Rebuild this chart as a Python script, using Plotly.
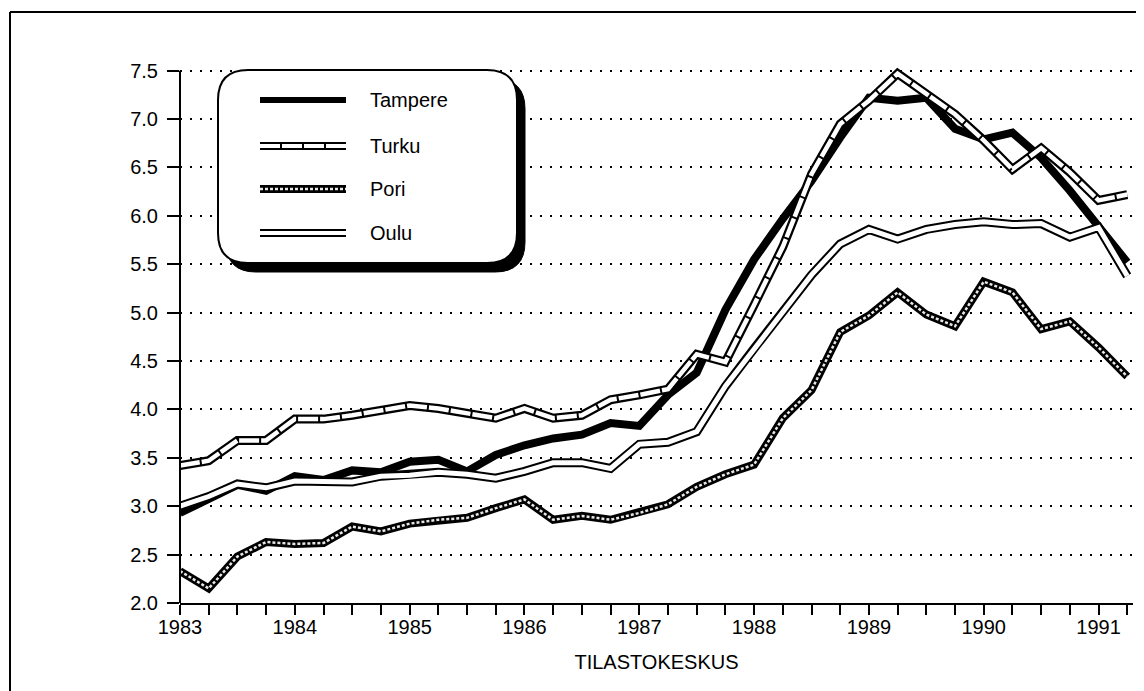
import plotly.graph_objects as go

# quarterly observations, 1983 Q1 .. 1991 Q2
quarters = [1983 + 0.25 * i for i in range(34)]

tampere = [2.93, 3.08, 3.22, 3.16, 3.31, 3.27, 3.37, 3.35, 3.46, 3.48, 3.36, 3.53,
           3.63, 3.70, 3.74, 3.86, 3.83, 4.15, 4.38, 5.03, 5.55, 5.97, 6.36, 6.81,
           7.22, 7.19, 7.22, 6.90, 6.79, 6.86, 6.60, 6.26, 5.90, 5.52]
turku = [3.42, 3.47, 3.68, 3.68, 3.90, 3.90, 3.94, 3.99, 4.04, 4.01, 3.96, 3.91,
         4.01, 3.91, 3.94, 4.10, 4.15, 4.21, 4.57, 4.49, 5.08, 5.68, 6.43, 6.95,
         7.19, 7.47, 7.26, 7.05, 6.78, 6.48, 6.70, 6.45, 6.16, 6.22]
pori = [2.33, 2.15, 2.48, 2.63, 2.61, 2.62, 2.79, 2.74, 2.82, 2.86, 2.88, 2.98,
        3.07, 2.86, 2.90, 2.86, 2.93, 3.02, 3.20, 3.33, 3.43, 3.91, 4.20, 4.80,
        4.97, 5.21, 4.98, 4.86, 5.32, 5.21, 4.83, 4.91, 4.64, 4.34]
oulu = [3.00, 3.10, 3.23, 3.19, 3.26, 3.25, 3.25, 3.31, 3.32, 3.35, 3.33, 3.29,
        3.36, 3.45, 3.45, 3.39, 3.64, 3.66, 3.77, 4.24, 4.63, 5.00, 5.39, 5.71,
        5.86, 5.76, 5.86, 5.91, 5.94, 5.91, 5.92, 5.78, 5.88, 5.38]

y_ticks = [2.0, 2.5, 3.0, 3.5, 4.0, 4.5, 5.0, 5.5, 6.0, 6.5, 7.0, 7.5]
names = ["Tampere", "Turku", "Pori", "Oulu"]

FONT = "Liberation Sans, Arial, sans-serif"

# the page body has an 8px margin, so work in window pixels and shift
OFF = 8
W, H = 1144 - OFF, 691 - OFF
L, R, T, B = 180 - OFF, 1133 - OFF, 61 - OFF, 603 - OFF


def px(x):
    return (x - OFF - L) / (R - L)


def py(y):
    return (B - (y - OFF)) / (B - T)


def rounded_rect(x0, y0, x1, y1, r):
    pts = [
        f"M {px(x0 + r)},{py(y0)}",
        f"L {px(x1 - r)},{py(y0)}",
        f"Q {px(x1)},{py(y0)} {px(x1)},{py(y0 + r)}",
        f"L {px(x1)},{py(y1 - r)}",
        f"Q {px(x1)},{py(y1)} {px(x1 - r)},{py(y1)}",
        f"L {px(x0 + r)},{py(y1)}",
        f"Q {px(x0)},{py(y1)} {px(x0)},{py(y1 - r)}",
        f"L {px(x0)},{py(y0 + r)}",
        f"Q {px(x0)},{py(y0)} {px(x0 + r)},{py(y0)}",
        "Z",
    ]
    return " ".join(pts)


# styles: list of (width, color, dash) layers for each series
styles = {
    "Tampere": [(8, "black", "solid")],
    "Turku": [(9, "black", "solid"), (4.5, "white", "20px,2px")],
    "Pori": [(8, "black", "solid"), (2.5, "#e8e8e8", "3px,2px")],
    "Oulu": [(9, "black", "solid"), (5, "white", "solid")],
}
series = {"Tampere": tampere, "Turku": turku, "Pori": pori, "Oulu": oulu}

fig = go.Figure()
for name in names:
    for w, c, d in styles[name]:
        fig.add_trace(go.Scatter(
            x=quarters, y=series[name], mode="lines",
            line=dict(width=w, color=c, dash=d),
            hoverinfo="skip", showlegend=False))

shapes = []
# outer frame (top and left edges)
shapes.append(dict(type="line", xref="paper", yref="paper",
                   x0=px(10), y0=py(12), x1=px(1144), y1=py(12),
                   line=dict(color="black", width=2)))
shapes.append(dict(type="line", xref="paper", yref="paper",
                   x0=px(10), y0=py(12), x1=px(10), y1=py(691),
                   line=dict(color="black", width=2)))
# y axis line
shapes.append(dict(type="line", xref="paper", yref="y",
                   x0=0, y0=2.0, x1=0, y1=7.5,
                   line=dict(color="black", width=2)))

# legend box with shadow
shapes.append(dict(type="path", xref="paper", yref="paper", layer="above",
                   path=rounded_rect(226, 79, 525, 272, 30),
                   fillcolor="black", line=dict(color="black", width=1)))
shapes.append(dict(type="path", xref="paper", yref="paper", layer="above",
                   path=rounded_rect(218, 70, 517, 263, 30),
                   fillcolor="white", line=dict(color="black", width=2)))

leg_y = [100, 146, 189, 233]
leg_styles = {
    "Tampere": [(6, "black", "solid")],
    "Turku": [(8, "black", "solid"), (4, "white", "20px,2px")],
    "Pori": [(8, "black", "solid"), (2.5, "#e8e8e8", "3px,2px")],
    "Oulu": [(8, "black", "solid"), (4, "white", "solid")],
}
annotations = []
for name, yy in zip(names, leg_y):
    for w, c, d in leg_styles[name]:
        shapes.append(dict(type="line", xref="paper", yref="paper", layer="above",
                           x0=px(260), y0=py(yy), x1=px(346), y1=py(yy),
                           line=dict(color=c, width=w, dash=d)))
    annotations.append(dict(x=px(368), y=py(yy), xref="paper", yref="paper",
                            text=name, showarrow=False, xanchor="left",
                            yanchor="middle",
                            font=dict(family=FONT, size=20, color="black")))

x_ticktext = [str(int(q)) if q == int(q) else "" for q in quarters]

fig.update_layout(
    width=W, height=H,
    margin=dict(l=L, r=W - R, t=T, b=H - B),
    paper_bgcolor="white", plot_bgcolor="white",
    font=dict(family=FONT, size=20, color="black"),
    shapes=shapes, annotations=annotations,
    xaxis=dict(
        range=[1983, 1991.3], tickvals=quarters, ticktext=x_ticktext,
        ticks="outside", ticklen=10, tickwidth=1.5, tickcolor="black",
        ticklabelstandoff=-5,
        showline=True, linecolor="black", linewidth=2,
        showgrid=False, zeroline=False,
        title=dict(text="TILASTOKESKUS", standoff=18,
                   font=dict(family=FONT, size=20)),
    ),
    yaxis=dict(
        range=[2.0, 7.6], tickvals=y_ticks,
        ticktext=[f"{v:.1f}" for v in y_ticks],
        ticks="outside", ticklen=12, tickwidth=1.5, tickcolor="black",
        ticklabelstandoff=5,
        showline=False, zeroline=False,
        showgrid=True, gridcolor="black", gridwidth=1.5, griddash="2px,8px",
    ),
)

fig.write_html("out.html")
